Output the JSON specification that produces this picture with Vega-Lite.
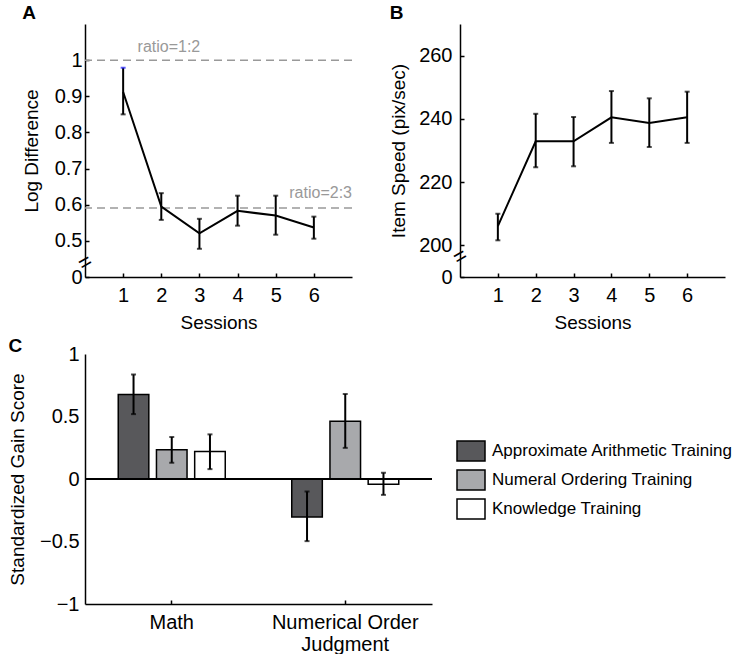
{
  "$schema": "https://vega.github.io/schema/vega-lite/v6.json",
  "background": "white",
  "padding": {"left": 8, "top": 4, "right": 0, "bottom": 0},
  "config": {
    "font": "Liberation Sans",
    "view": {"stroke": null},
    "axis": {
      "grid": false, "domainColor": "black", "domainWidth": 1.5,
      "tickColor": "black", "tickWidth": 1.5, "tickSize": -4,
      "labelColor": "black", "titleColor": "black",
      "labelFontSize": 20, "titleFontSize": 19, "titleFontWeight": "normal",
      "labelFont": "Liberation Sans", "titleFont": "Liberation Sans"
    },
    "title": {"fontSize": 19, "fontWeight": "bold", "anchor": "start", "frame": "bounds", "color": "black", "offset": 1},
    "legend": {
      "symbolType": "M-1.4,-1H1.4V1H-1.4Z", "symbolSize": 400,
      "symbolStrokeColor": "black", "symbolStrokeWidth": 1.5,
      "labelFontSize": 17, "labelFont": "Liberation Sans", "labelColor": "black",
      "labelOffset": 10, "rowPadding": 3, "padding": 0, "labelLimit": 400
    }
  },
  "datasets": {
    "logdiff": [
      {"session": 1, "mean": 0.912, "lo": 0.85, "hi": 0.979},
      {"session": 2, "mean": 0.595, "lo": 0.558, "hi": 0.632},
      {"session": 3, "mean": 0.521, "lo": 0.478, "hi": 0.561},
      {"session": 4, "mean": 0.583, "lo": 0.542, "hi": 0.625},
      {"session": 5, "mean": 0.570, "lo": 0.517, "hi": 0.625},
      {"session": 6, "mean": 0.537, "lo": 0.506, "hi": 0.567}
    ],
    "ratios": [
      {"label": "ratio=1:2", "value": 1.0, "pos": 2.2},
      {"label": "ratio=2:3", "value": 0.591, "pos": 7}
    ],
    "speed": [
      {"session": 1, "mean": 206.1, "lo": 201.6, "hi": 210.0},
      {"session": 2, "mean": 232.9, "lo": 224.7, "hi": 241.6},
      {"session": 3, "mean": 232.9, "lo": 225.0, "hi": 240.6},
      {"session": 4, "mean": 240.5, "lo": 232.4, "hi": 248.8},
      {"session": 5, "mean": 238.7, "lo": 231.1, "hi": 246.5},
      {"session": 6, "mean": 240.5, "lo": 232.4, "hi": 248.6}
    ],
    "gain": [
      {"measure": "Math", "group": "Approximate Arithmetic Training", "value": 0.677, "lo": 0.519, "hi": 0.836},
      {"measure": "Math", "group": "Numeral Ordering Training", "value": 0.235, "lo": 0.13, "hi": 0.336},
      {"measure": "Math", "group": "Knowledge Training", "value": 0.22, "lo": 0.079, "hi": 0.357},
      {"measure": "Numerical Order Judgment", "group": "Approximate Arithmetic Training", "value": -0.304, "lo": -0.497, "hi": -0.1},
      {"measure": "Numerical Order Judgment", "group": "Numeral Ordering Training", "value": 0.463, "lo": 0.249, "hi": 0.68},
      {"measure": "Numerical Order Judgment", "group": "Knowledge Training", "value": -0.042, "lo": -0.127, "hi": 0.05}
    ]
  },
  "columns": 2,
  "align": "none",
  "bounds": "flush",
  "spacing": {"row": 77, "column": 28},
  "concat": [
    {
      "title": {"text": "A"},
      "width": 267, "height": 253,
      "layer": [
        {
          "data": {"name": "ratios"},
          "mark": {"type": "rule", "color": "#999999", "strokeWidth": 1.5, "strokeDash": [8, 5]},
          "encoding": {
            "y": {"field": "value", "type": "quantitative", "scale": {"domain": [0.4, 1.1], "nice": false, "zero": false},
                  "axis": {"title": "Log Difference", "values": [0.4, 0.5, 0.6, 0.7, 0.8, 0.9, 1], "labelExpr": "datum.value < 0.45 ? '0' : format(datum.value, '~g')", "labelPadding": 7, "titlePadding": 13}}
          }
        },
        {
          "data": {"name": "ratios"},
          "transform": [{"filter": "datum.pos < 5"}],
          "mark": {"type": "text", "color": "#999999", "fontSize": 16, "dy": -13, "align": "center"},
          "encoding": {
            "x": {"field": "pos", "type": "quantitative"},
            "y": {"field": "value", "type": "quantitative"},
            "text": {"field": "label"}
          }
        },
        {
          "data": {"name": "ratios"},
          "transform": [{"filter": "datum.pos > 5"}],
          "mark": {"type": "text", "color": "#999999", "fontSize": 16, "dy": -15, "align": "right"},
          "encoding": {
            "x": {"field": "pos", "type": "quantitative"},
            "y": {"field": "value", "type": "quantitative"},
            "text": {"field": "label"}
          }
        },
        {
          "data": {"name": "logdiff"},
          "mark": {"type": "rule", "color": "black", "strokeWidth": 2},
          "encoding": {
            "x": {"field": "session", "type": "quantitative", "scale": {"domain": [0, 7], "nice": false},
                  "axis": {"title": "Sessions", "values": [1, 2, 3, 4, 5, 6], "labelPadding": 12, "titlePadding": 8}},
            "y": {"field": "lo", "type": "quantitative"},
            "y2": {"field": "hi"}
          }
        },
        {
          "data": {"name": "logdiff"},
          "mark": {"type": "tick", "color": "black", "orient": "horizontal", "size": 5, "thickness": 2},
          "encoding": {
            "x": {"field": "session", "type": "quantitative"},
            "y": {"field": "lo", "type": "quantitative"}
          }
        },
        {
          "data": {"name": "logdiff"},
          "mark": {"type": "tick", "orient": "horizontal", "size": 5, "thickness": 2},
          "encoding": {
            "x": {"field": "session", "type": "quantitative"},
            "y": {"field": "hi", "type": "quantitative"},
            "color": {"condition": {"test": "datum.session == 1", "value": "#1a1aff"}, "value": "black"}
          }
        },
        {
          "data": {"name": "logdiff"},
          "mark": {"type": "line", "color": "black", "strokeWidth": 2},
          "encoding": {
            "x": {"field": "session", "type": "quantitative"},
            "y": {"field": "mean", "type": "quantitative"}
          }
        },
        {
          "data": {"values": [{"b": "="}]},
          "mark": {"type": "text", "fontSize": 22, "angle": -30, "color": "black"},
          "encoding": {
            "x": {"datum": 0},
            "y": {"datum": 0.44},
            "text": {"field": "b"}
          }
        }
      ]
    },
    {
      "title": {"text": "B"},
      "width": 265, "height": 253,
      "data": {"name": "speed"},
      "layer": [
        {
          "mark": {"type": "rule", "color": "black", "strokeWidth": 2},
          "encoding": {
            "x": {"field": "session", "type": "quantitative", "scale": {"domain": [0, 7], "nice": false},
                  "axis": {"title": "Sessions", "values": [1, 2, 3, 4, 5, 6], "labelPadding": 12, "titlePadding": 8}},
            "y": {"field": "lo", "type": "quantitative", "scale": {"domain": [190, 270], "nice": false, "zero": false},
                  "axis": {"title": "Item Speed (pix/sec)", "values": [190, 200, 220, 240, 260], "labelExpr": "datum.value < 195 ? '0' : datum.label", "labelPadding": 12, "titlePadding": 10}},
            "y2": {"field": "hi"}
          }
        },
        {
          "mark": {"type": "tick", "color": "black", "orient": "horizontal", "size": 5, "thickness": 2},
          "encoding": {
            "x": {"field": "session", "type": "quantitative"},
            "y": {"field": "lo", "type": "quantitative"}
          }
        },
        {
          "mark": {"type": "tick", "color": "black", "orient": "horizontal", "size": 5, "thickness": 2},
          "encoding": {
            "x": {"field": "session", "type": "quantitative"},
            "y": {"field": "hi", "type": "quantitative"}
          }
        },
        {
          "mark": {"type": "line", "color": "black", "strokeWidth": 2},
          "encoding": {
            "x": {"field": "session", "type": "quantitative"},
            "y": {"field": "mean", "type": "quantitative"}
          }
        },
        {
          "data": {"values": [{"b": "="}]},
          "mark": {"type": "text", "fontSize": 22, "angle": -30, "color": "black"},
          "encoding": {
            "x": {"datum": 0},
            "y": {"datum": 196.5},
            "text": {"field": "b"}
          }
        }
      ]
    },
    {
      "title": {"text": "C", "dy": 13},
      "width": 347, "height": 250,
      "data": {"name": "gain"},
      "layer": [
        {
          "mark": {"type": "bar", "stroke": "black", "strokeWidth": 1.5},
          "encoding": {
            "x": {"field": "measure", "type": "nominal", "scale": {"paddingInner": 0, "paddingOuter": 0},
                  "axis": {"title": null, "labelAngle": 0, "labelPadding": 12,
                           "labelExpr": "datum.value == 'Numerical Order Judgment' ? ['Numerical Order', 'Judgment'] : datum.value"}},
            "xOffset": {"field": "group", "type": "nominal",
                        "scale": {"domain": ["Approximate Arithmetic Training", "Numeral Ordering Training", "Knowledge Training"], "paddingInner": 0.2, "paddingOuter": 0.87}},
            "y": {"field": "value", "type": "quantitative", "scale": {"domain": [-1, 1], "nice": false},
                  "axis": {"title": "Standardized Gain Score", "values": [-1, -0.5, 0, 0.5, 1], "labelExpr": "replace(format(datum.value, '~g'), '-', '\u2212')", "labelPadding": 6, "titlePadding": 12, "ticks": false}},
            "color": {"field": "group", "type": "nominal",
                      "scale": {"domain": ["Approximate Arithmetic Training", "Numeral Ordering Training", "Knowledge Training"], "range": ["#58585b", "#a8a9ac", "#ffffff"]},
                      "legend": {"title": null, "orient": "none", "legendX": 375, "legendY": 416}}
          }
        },
        {
          "mark": {"type": "rule", "color": "black", "strokeWidth": 1.5},
          "encoding": {"y": {"datum": 0}}
        },
        {
          "mark": {"type": "rule", "color": "black", "strokeWidth": 2},
          "encoding": {
            "x": {"field": "measure", "type": "nominal"},
            "xOffset": {"field": "group", "type": "nominal"},
            "y": {"field": "lo", "type": "quantitative"},
            "y2": {"field": "hi"}
          }
        },
        {
          "mark": {"type": "tick", "color": "black", "orient": "horizontal", "size": 5, "thickness": 2},
          "encoding": {
            "x": {"field": "measure", "type": "nominal"},
            "xOffset": {"field": "group", "type": "nominal"},
            "y": {"field": "lo", "type": "quantitative"}
          }
        },
        {
          "mark": {"type": "tick", "color": "black", "orient": "horizontal", "size": 5, "thickness": 2},
          "encoding": {
            "x": {"field": "measure", "type": "nominal"},
            "xOffset": {"field": "group", "type": "nominal"},
            "y": {"field": "hi", "type": "quantitative"}
          }
        }
      ]
    }
  ]
}
